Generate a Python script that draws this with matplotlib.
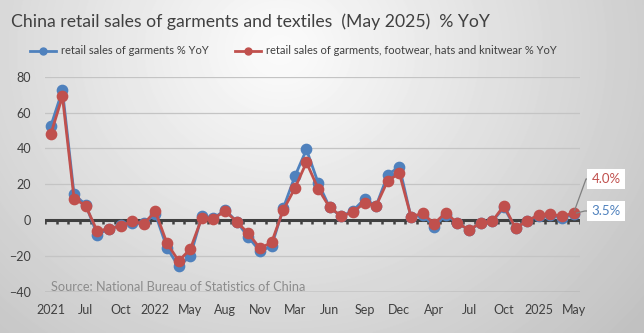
import numpy as np
import matplotlib
matplotlib.use("Agg")
import matplotlib.pyplot as plt
from matplotlib.lines import Line2D

# Monthly year-on-year growth, % (Jan and Feb are reported together)
garments = [52.4, 72.4, 14.4, 8.5, -8.1, -5.0, -3.0, -1.5, -1.7,
            3.3, -15.6, -25.9, -20.2, 2.4, 0.9, 5.7, -0.9, -9.6, -17.4, -14.6,
            6.5, 24.3, 39.4, 20.9, 7.0, 2.0, 5.2, 11.7, 8.0, 25.2, 29.8,
            1.5, 3.0, -3.7, 3.0, -1.9, -5.4, -1.9, -0.7, 7.0, -4.6, -0.4,
            2.4, 3.0, 1.1, 3.5]
garments_footwear = [48.0, 69.0, 12.0, 8.0, -6.3, -4.8, -3.3, -0.8, -2.0,
                     4.8, -13.0, -22.8, -16.3, 1.2, 0.8, 5.0, -0.9, -7.5, -15.8, -12.5,
                     5.5, 17.7, 32.2, 17.6, 7.0, 2.2, 4.4, 9.6, 8.0, 22.0, 26.0,
                     1.9, 3.7, -2.0, 4.2, -1.9, -5.3, -1.8, -0.6, 8.0, -4.6, -0.3,
                     2.8, 3.4, 2.0, 4.0]
tick_labels = ["2021", "Jul", "Oct", "2022", "May", "Aug", "Nov", "Mar", "Jun",
               "Sep", "Dec", "Apr", "Jul", "Oct", "2025", "May"]
series_names = ["retail sales of garments % YoY",
                "retail sales of garments, footwear, hats and knitwear % YoY"]

BLUE = "#4F81BD"
RED = "#C0504D"
DARK = "#404040"
FONT = "Lato"

W, H = 644, 333
fig = plt.figure(figsize=(W / 100, H / 100), dpi=100)

# soft grey gradient background
yy, xx = np.mgrid[0:H, 0:W]
r = np.sqrt(((xx - 280) / 1.0) ** 2 + ((yy - 50) / 0.9) ** 2)
shade = np.clip(252 - 0.125 * r, 0, 255) / 255.0
bg = fig.add_axes([0, 0, 1, 1], zorder=-10)
bg.imshow(shade, cmap="gray", vmin=0, vmax=1, aspect="auto",
          extent=(0, 1, 0, 1), interpolation="bilinear")
bg.set_axis_off()

ax = fig.add_axes([45 / W, 1 - 291.7 / H, 534.5 / W, 215 / H])
ax.patch.set_alpha(0)
x = np.arange(len(garments))
ax.set_xlim(-0.5, len(garments) - 0.5)
ax.set_ylim(-40, 80)

for v in [80, 60, 40, 20, -20]:
    ax.axhline(v, color="#c4c4c4", lw=0.9, zorder=1)
ax.axhline(-40, color="#8c8c8c", lw=1.0, zorder=1)

# category axis drawn at zero with tick marks between categories
ax.axhline(0, color=DARK, lw=2.2, zorder=2)
bounds = np.arange(len(garments) + 1) - 0.5
ax.vlines(bounds, -2.3, 0, color=DARK, lw=1.8, zorder=2)

ax.plot(x, garments, color=BLUE, lw=2.0, marker="o", ms=7.4,
        mec=BLUE, mfc=BLUE, zorder=3)
ax.plot(x, garments_footwear, color=RED, lw=2.0, marker="o", ms=7.4,
        mec=RED, mfc=RED, zorder=4)

for s in ax.spines.values():
    s.set_visible(False)
ax.set_yticks([80, 60, 40, 20, 0, -20, -40])
ax.set_xticks(np.arange(0, len(garments), 3))
ax.set_xticklabels(tick_labels)
ax.tick_params(axis="y", length=0, pad=10, labelsize=9, labelcolor=DARK)
ax.tick_params(axis="x", length=0, pad=8.5, labelsize=9, labelcolor=DARK)
for lab in ax.get_xticklabels() + ax.get_yticklabels():
    lab.set_fontfamily(FONT)

# end-of-series value labels
last = len(garments) - 1
for vals, color, pos, angB in [(garments_footwear, RED, (606, 333 - 179), 70),
                               (garments, BLUE, (606, 333 - 211), 14)]:
    ax.annotate(f"{vals[last]:.1f}%", xy=(last, vals[last]), xytext=pos,
                textcoords="figure pixels", ha="center", va="center",
                fontsize=9.5, color=color, family=FONT,
                bbox=dict(boxstyle="square,pad=0.3", fc="white", ec="none"),
                arrowprops=dict(arrowstyle="-", color="#808080", lw=0.9,
                                shrinkA=0, shrinkB=2,
                                connectionstyle=f"angle,angleA=0,angleB={angB},rad=0"),
                zorder=6, annotation_clip=False)

fig.text(11 / W, 1 - 26.5 / H,
         "China retail sales of garments and textiles  (May 2025)  % YoY",
         fontsize=12.7, color=DARK, family=FONT, va="baseline", ha="left")

fig.text(51 / W, 1 - 291 / H, "Source: National Bureau of Statistics of China",
         fontsize=9.2, color="#8c8c8c", family=FONT, va="baseline", ha="left")

handles = [Line2D([], [], color=BLUE, lw=2, marker="o", ms=5),
           Line2D([], [], color=RED, lw=2, marker="o", ms=5)]
fig.legend(handles, series_names, loc="center left",
           bbox_to_anchor=(30 / W, 1 - 51 / H), ncol=2, frameon=False,
           borderpad=0, borderaxespad=0, handlelength=2.3, handletextpad=0.45,
           columnspacing=2.4, prop=dict(family=FONT, size=8), labelcolor=DARK)

fig.savefig("out.png", dpi=100)
